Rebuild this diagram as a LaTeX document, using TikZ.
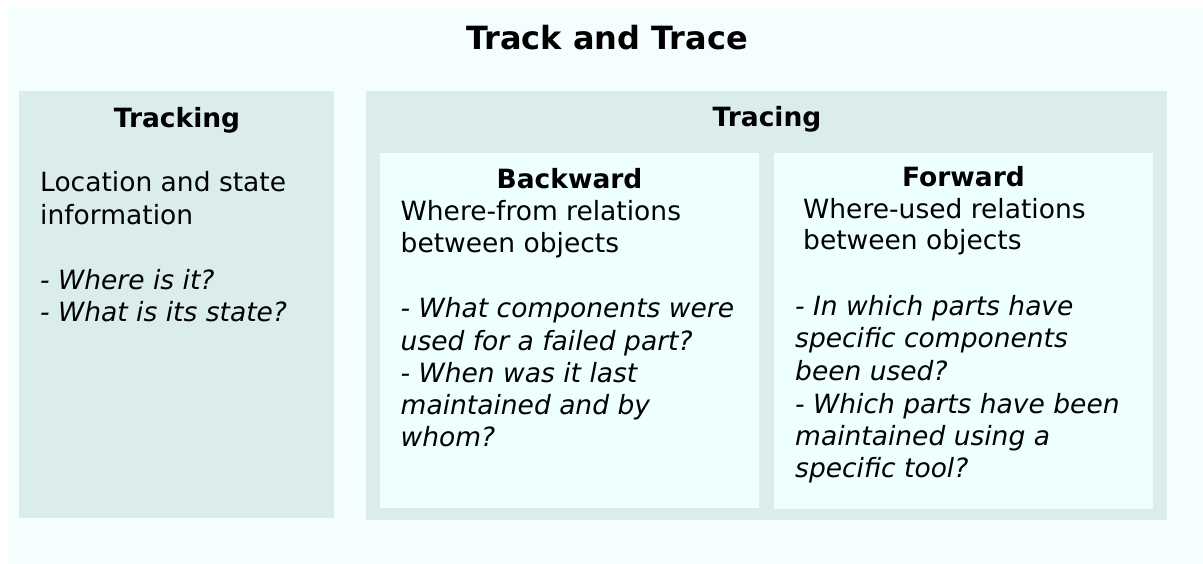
\documentclass[tikz,border=0pt]{standalone}
\usepackage{fontspec}
\setmainfont{DejaVu Sans}
\definecolor{outerbg}{HTML}{F4FEFF}
\definecolor{panelbg}{HTML}{DAECEB}
\definecolor{innerbg}{HTML}{EEFFFF}
\tikzset{
  panel/.style={fill=panelbg, draw=none},
  innerbox/.style={fill=innerbg, draw=none},
  ln/.style={anchor=base west, inner sep=0pt, font=\fontsize{26.5}{32}\selectfont},
  il/.style={ln, font=\fontsize{26.5}{32}\selectfont\itshape},
  hd/.style={anchor=base, inner sep=0pt, font=\fontsize{26.5}{32}\selectfont\bfseries},
  ttl/.style={anchor=base, inner sep=0pt, font=\fontsize{32}{38}\selectfont\bfseries}
}
\begin{document}
\begin{tikzpicture}[x=1pt,y=-1pt]
\useasboundingbox (0,0) rectangle (1203,564);
\fill[white] (0,0) rectangle (1203,564);
\fill[outerbg] (8,7) rectangle (1203,564);
% panels
\fill[panel] (19,91) rectangle (334,518);
\fill[panel] (366,91) rectangle (1167,520);
\fill[innerbox] (380,153) rectangle (759,508);
\fill[innerbox] (774,153) rectangle (1153,509);
% title
\node[ttl] (title) at (607,50) {Track and Trace};
% tracking
\node[hd] (trk) at (177,128) {Tracking};
\node[ln] (trk1) at (40,192) {Location and state};
\node[ln] (trk2) at (40,224.5) {information};
\node[il] (trk3) at (40,289.5) {- Where is it?};
\node[il] (trk4) at (40,321.5) {- What is its state?};
% tracing
\node[hd] (trc) at (767,127) {Tracing};
% backward
\node[hd] (bw) at (569.5,189) {Backward};
\node[ln] (bw1) at (400.5,221) {Where-from relations};
\node[ln] (bw2) at (400.5,253) {between objects};
\node[il] (bw3) at (400.5,318) {- What components were};
\node[il] (bw4) at (400.5,350) {used for a failed part?};
\node[il] (bw5) at (400.5,382) {- When was it last};
\node[il] (bw6) at (400.5,414) {maintained and by};
\node[il] (bw7) at (400.5,446) {whom?};
% forward
\node[hd] (fw) at (963.5,187) {Forward};
\node[ln] (fw1) at (803,219) {Where-used relations};
\node[ln] (fw2) at (803,250) {between objects};
\node[il] (fw3) at (795,316) {- In which parts have};
\node[il] (fw4) at (795,348) {specific components};
\node[il] (fw5) at (795,380) {been used?};
\node[il] (fw6) at (795,413) {- Which parts have been};
\node[il] (fw7) at (795,445) {maintained using a};
\node[il] (fw8) at (795,477) {specific tool?};
\end{tikzpicture}
\end{document}
